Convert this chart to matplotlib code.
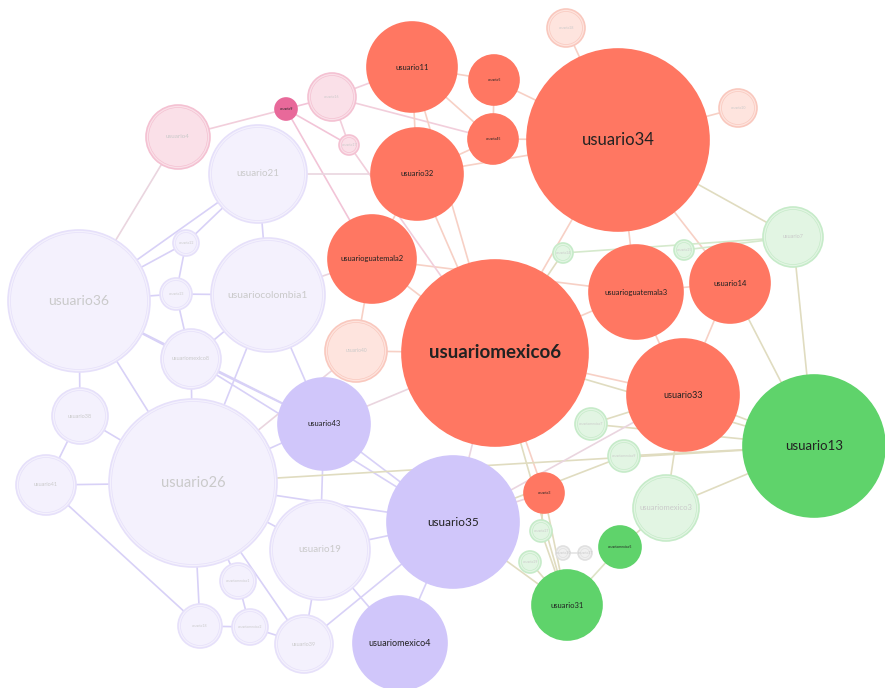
import matplotlib.pyplot as plt
from matplotlib.patches import Circle

plt.rcParams['font.family'] = ['Lato', 'DejaVu Sans']

# nodes: label, group, size (radius)
labels = ["usuariomexico6", "usuario34", "usuario11", "usuario5", "usuario45", "usuario32",
          "usuarioguatemala2", "usuarioguatemala3", "usuario14", "usuario33", "usuario3",
          "usuario28", "usuario20", "usuario40",
          "usuario4", "usuario9", "usuario16", "usuario17",
          "usuario21", "usuario36", "usuariocolombia1", "usuario22", "usuario23", "usuariomexico8",
          "usuario38", "usuario41", "usuario26", "usuario19", "usuariomexico1", "usuario18",
          "usuariomexico2", "usuario39",
          "usuario43", "usuario35", "usuariomexico4",
          "usuario13", "usuario31", "usuariomexico5",
          "usuario7", "usuario24", "usuario25", "usuariomexico7", "usuariomexico9",
          "usuariomexico3", "usuario27", "usuario29",
          "usuario30", "usuario37"]
groups = ["red"] * 11 + ["redl"] * 3 + ["pinkl", "pink", "pinkl", "pinkl"] + ["lavl"] * 14 + \
         ["lav"] * 3 + ["green"] * 3 + ["greenl"] * 8 + ["gray"] * 2
sizes = [93, 91, 45, 25, 25, 46, 44, 47, 40, 56, 20,
         19, 19, 31,
         32, 11, 24, 10,
         49, 71, 57, 13, 16, 30, 28, 30, 84, 50, 18, 22, 18, 29,
         46, 66, 47,
         71, 35, 21,
         30, 10, 10, 16, 16, 33, 11, 11,
         7, 7]

# layout
pos_x = [495, 618, 412, 494, 493, 417, 372, 636, 730, 683, 544,
         566, 738, 356,
         178, 286, 332, 349,
         258, 79, 268, 186, 176, 191, 80, 46, 193, 320, 238, 200, 250, 304,
         324, 453, 400,
         814, 567, 620,
         793, 563, 684, 591, 624, 666, 541, 530,
         563, 585]
pos_y = [353, 140, 67, 80, 139, 174, 259, 292, 283, 395, 493,
         28, 108, 351,
         137, 109, 97, 145,
         174, 301, 295, 243, 294, 359, 416, 485, 483, 550, 581, 626, 627, 644,
         424, 522, 643,
         446, 605, 547,
         237, 253, 250, 424, 456, 508, 531, 562,
         553, 553]

edges = [
    ("usuario36", "usuario21"), ("usuario36", "usuario22"), ("usuario36", "usuario23"),
    ("usuario36", "usuariomexico8"), ("usuario36", "usuario26"), ("usuario36", "usuario38"),
    ("usuario36", "usuario4"), ("usuario36", "usuario43"), ("usuario21", "usuariocolombia1"),
    ("usuario21", "usuario22"), ("usuario22", "usuario23"), ("usuario23", "usuariomexico8"),
    ("usuario23", "usuariocolombia1"), ("usuariomexico8", "usuariocolombia1"),
    ("usuariomexico8", "usuario26"), ("usuariomexico8", "usuario43"),
    ("usuariocolombia1", "usuario26"), ("usuariocolombia1", "usuario43"),
    ("usuario38", "usuario41"), ("usuario38", "usuario26"), ("usuario41", "usuario26"),
    ("usuario41", "usuario18"), ("usuario26", "usuario19"), ("usuario26", "usuario43"),
    ("usuario26", "usuario35"), ("usuario26", "usuariomexico1"), ("usuario26", "usuario18"),
    ("usuario26", "usuario39"), ("usuariomexico1", "usuariomexico2"),
    ("usuario18", "usuariomexico2"), ("usuariomexico2", "usuario39"),
    ("usuario19", "usuario39"), ("usuario19", "usuario35"), ("usuario19", "usuariomexico4"),
    ("usuario19", "usuario43"), ("usuario39", "usuario35"), ("usuario43", "usuario35"),
    ("usuariomexico4", "usuario35"), ("usuariomexico8", "usuario35"),
    ("usuario4", "usuario9"), ("usuario9", "usuario16"), ("usuario9", "usuario17"),
    ("usuario9", "usuarioguatemala2"), ("usuario16", "usuario17"), ("usuario16", "usuario11"),
    ("usuario16", "usuario45"), ("usuario11", "usuario5"), ("usuario11", "usuario45"),
    ("usuario11", "usuario32"), ("usuario11", "usuariomexico6"), ("usuario5", "usuario45"),
    ("usuario5", "usuario34"), ("usuario45", "usuario34"), ("usuario45", "usuario32"),
    ("usuario32", "usuario34"), ("usuario32", "usuario21"), ("usuario32", "usuariomexico6"),
    ("usuario32", "usuarioguatemala2"), ("usuario34", "usuario28"), ("usuario34", "usuario20"),
    ("usuario34", "usuariomexico6"), ("usuario34", "usuarioguatemala3"),
    ("usuario34", "usuario14"), ("usuario34", "usuario7"),
    ("usuarioguatemala2", "usuariomexico6"), ("usuarioguatemala2", "usuariocolombia1"),
    ("usuarioguatemala2", "usuarioguatemala3"), ("usuariomexico6", "usuarioguatemala3"),
    ("usuariomexico6", "usuario33"), ("usuariomexico6", "usuario40"),
    ("usuariomexico6", "usuario43"), ("usuariomexico6", "usuario35"),
    ("usuariomexico6", "usuario3"), ("usuariomexico6", "usuario31"),
    ("usuariomexico6", "usuario13"), ("usuarioguatemala3", "usuario14"),
    ("usuarioguatemala3", "usuario33"), ("usuario14", "usuario33"), ("usuario14", "usuario13"),
    ("usuario33", "usuario13"), ("usuario33", "usuariomexico3"), ("usuario33", "usuariomexico7"),
    ("usuario40", "usuario26"), ("usuario3", "usuario31"), ("usuario3", "usuario27"),
    ("usuario3", "usuario35"), ("usuario24", "usuario7"), ("usuario25", "usuario7"),
    ("usuario24", "usuariomexico6"), ("usuario7", "usuario13"), ("usuariomexico3", "usuario13"),
    ("usuariomexico3", "usuariomexico5"), ("usuariomexico5", "usuario31"),
    ("usuario29", "usuario31"), ("usuario27", "usuario31"), ("usuario30", "usuario37"),
    ("usuariomexico7", "usuario13"), ("usuario35", "usuario31"), ("usuario35", "usuariomexico9"),
    ("usuariomexico9", "usuario13"), ("usuario26", "usuario13"), ("usuario35", "usuario33"),
    ("usuario40", "usuarioguatemala2"), ("usuario17", "usuariomexico6"),
]

fills = {"red": "#FF7762", "redl": "#FEE4DE", "pink": "#E8699A", "pinkl": "#FAE0E8",
         "lavl": "#F4F1FD", "lav": "#D0C6FA", "green": "#5FD36B", "greenl": "#E2F5E3",
         "gray": "#F0F0F0"}
borders = {"red": "#FF7762", "redl": "#F9C8BE", "pink": "#E8699A", "pinkl": "#F4C1D2",
           "lavl": "#E6E0FA", "lav": "#D0C6FA", "green": "#5FD36B", "greenl": "#C6EBC9",
           "gray": "#E0E0E0"}
edge_cols = {"red": "#F7D0C5", "redl": "#F7D0C5", "pink": "#F2C4D7", "pinkl": "#F2CEDB",
             "lavl": "#D8D1F7", "lav": "#D8D1F7", "green": "#DDE3C6", "greenl": "#D5E9CC",
             "gray": "#E4E4E4"}

idx = {n: i for i, n in enumerate(labels)}

fig = plt.figure(figsize=(8.85, 6.88), dpi=100)
ax = fig.add_axes([0, 0, 1, 1])
ax.set_xlim(0, 885)
ax.set_ylim(688, 0)
ax.set_aspect('equal')
ax.axis('off')

for a, b in edges:
    i, j = idx[a], idx[b]
    ga, gb = groups[i], groups[j]
    if ga == gb or (ga in ("lav", "lavl") and gb in ("lav", "lavl")):
        c = edge_cols[ga]
    elif "green" in ga or "green" in gb:
        c = "#E0DCC0"
    elif "lav" in ga or "lav" in gb:
        c = "#EAD5DF"
    else:
        c = edge_cols[ga]
    ax.plot([pos_x[i], pos_x[j]], [pos_y[i], pos_y[j]], color=c, lw=1.2, zorder=1,
            solid_capstyle='round')

for i, n in enumerate(labels):
    g = groups[i]
    r = sizes[i]
    ax.add_patch(Circle((pos_x[i], pos_y[i]), r, facecolor=fills[g],
                        edgecolor=borders[g], lw=1.2, zorder=2))
    if g in ("redl", "pinkl", "lavl", "greenl", "gray"):
        ax.add_patch(Circle((pos_x[i], pos_y[i]), r - 2.5, facecolor='none',
                            edgecolor=borders[g], lw=0.5, zorder=2))

label_size = {"usuariomexico6": 13.5, "usuario34": 12, "usuario13": 9.5, "usuario36": 10,
              "usuario26": 10.5, "usuario35": 8.5, "usuariocolombia1": 7.5, "usuario21": 7,
              "usuario19": 7, "usuario33": 6.5, "usuariomexico4": 6.5, "usuario11": 5.5,
              "usuario32": 5.5, "usuarioguatemala2": 5.5, "usuarioguatemala3": 5.5,
              "usuario14": 5.5, "usuario43": 5.5, "usuario31": 5.5, "usuario40": 3.5,
              "usuariomexico3": 5.5, "usuario7": 4, "usuario4": 4.5, "usuariomexico8": 4,
              "usuario38": 4, "usuario41": 4, "usuario39": 4}
for i, n in enumerate(labels):
    g = groups[i]
    fs = label_size.get(n, 2.5)
    col = "#222222" if g in ("red", "pink", "lav", "green") else "#CACACA"
    ax.text(pos_x[i], pos_y[i], n, ha='center', va='center', fontsize=fs, color=col,
            fontweight='bold' if n == "usuariomexico6" else 'normal', zorder=3)

fig.savefig("out.png", dpi=100)
